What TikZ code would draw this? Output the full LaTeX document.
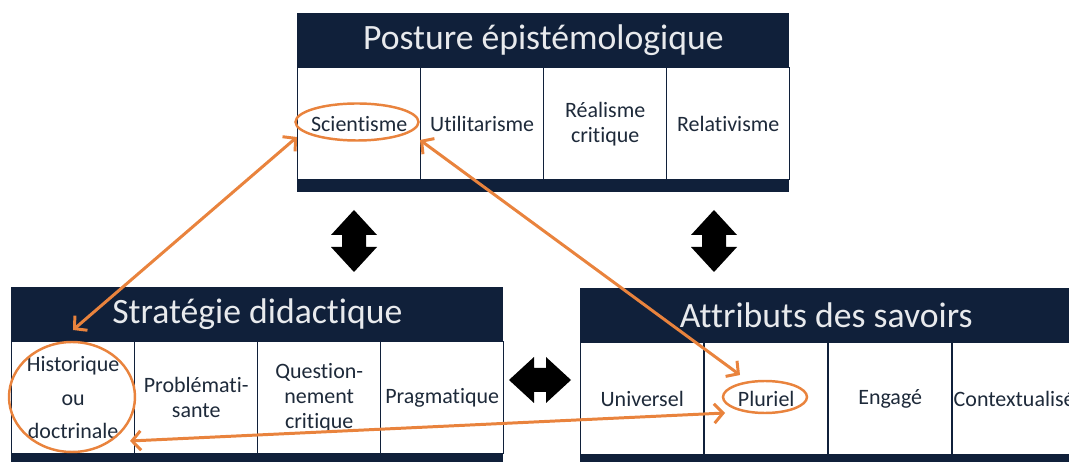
\documentclass[tikz,border=0pt]{standalone}
\usepackage{fontspec}
\setmainfont[Ligatures=NoCommon]{Carlito}
\usetikzlibrary{arrows.meta,shapes.geometric}
\definecolor{navy}{HTML}{10203A}
\definecolor{celltext}{HTML}{1E2A3A}
\definecolor{headtext}{HTML}{E8EAED}
\definecolor{accent}{HTML}{E9833D}
\tikzset{
  header/.style={fill=navy, text=headtext, anchor=north west, inner sep=0pt,
    minimum width=9.84cm, minimum height=1.08cm, font=\fontsize{20.3}{24}\selectfont},
  cell/.style={draw=navy, line width=0.8pt, fill=white, text=celltext, anchor=north west,
    inner sep=0pt, minimum width=2.46cm, minimum height=2.24cm, align=center,
    font=\fontsize{12.5}{14.2}\selectfont},
  bar/.style={fill=navy, anchor=north west, inner sep=0pt, minimum width=9.84cm, minimum height=0.26cm},
  ring/.style={ellipse, draw=accent, line width=1.4pt, inner sep=0pt},
  link/.style={draw=accent, line width=1.7pt, {Straight Barb[length=5pt,width=11pt]}-{Straight Barb[length=5pt,width=11pt]}},
  dblarrow/.pic={\fill[black] (0,-31) -- (23,-6) -- (12,-6) -- (12,6) -- (23,6) -- (0,31)
    -- (-23,6) -- (-12,6) -- (-12,-6) -- (-23,-6) -- cycle;}
}
\begin{document}
\begin{tikzpicture}[x=0.02cm, y=-0.02cm]
			\useasboundingbox (0,0) rectangle (1069,462);
			\clip (0,0) rectangle (1069,462);
			\node[header] (post) at (297,13) {Posture épistémologique};
			\foreach \i/\txt in {1/Scientisme, 2/Utilitarisme, 3/{Réalisme\\critique}, 4/Relativisme}
				\node[cell] (post\i) at ({297+123*(\i-1)},67) {\txt};
			\node[bar] (postbar) at (297,179) {};
			\node[header] (strat) at (11,287) {Stratégie didactique};
			\foreach \i/\txt in {1/{Historique\\[5pt]ou\\[5pt]doctrinale}, 2/{Problémati-\\sante}, 3/{Question-\\nement\\critique}, 4/Pragmatique}
				\node[cell] (strat\i) at ({11+123*(\i-1)},341) {\txt};
			\node[bar] (stratbar) at (11,453) {};
			\node[header] (attr) at (580,288) {Attributs des savoirs};
			\foreach \i/\txt in {1/Universel, 2/Pluriel, 3/Engagé, 4/Contextualisé}
				\node[cell] (attr\i) at ({580+124*(\i-1)},342) {\txt};
			\node[bar] (attrbar) at (580,454) {};
			\pic at (354,241) {dblarrow};
			\pic at (714,241) {dblarrow};
			\pic[rotate=90] at (540,380) {dblarrow};
			\node[ring, minimum width=2.46cm, minimum height=0.74cm] (sciring) at (357,122) {};
			\node[ring, minimum width=2.52cm, minimum height=2.2cm] (histring) at (72,397) {};
			\node[ring, minimum width=1.68cm, minimum height=0.64cm] (plurring) at (765,397) {};
			\coordinate (sciL) at (297,137);
			\coordinate (sciR) at (420,140);
			\coordinate (histT) at (73,330);
			\coordinate (histR) at (130,441);
			\coordinate (plurT) at (740,375);
			\coordinate (plurL) at (725,413);
			\draw[link] (sciL) -- (histT);
			\draw[link] (sciR) -- (plurT);
			\draw[link] (histR) -- (plurL);
		\end{tikzpicture}
\end{document}
